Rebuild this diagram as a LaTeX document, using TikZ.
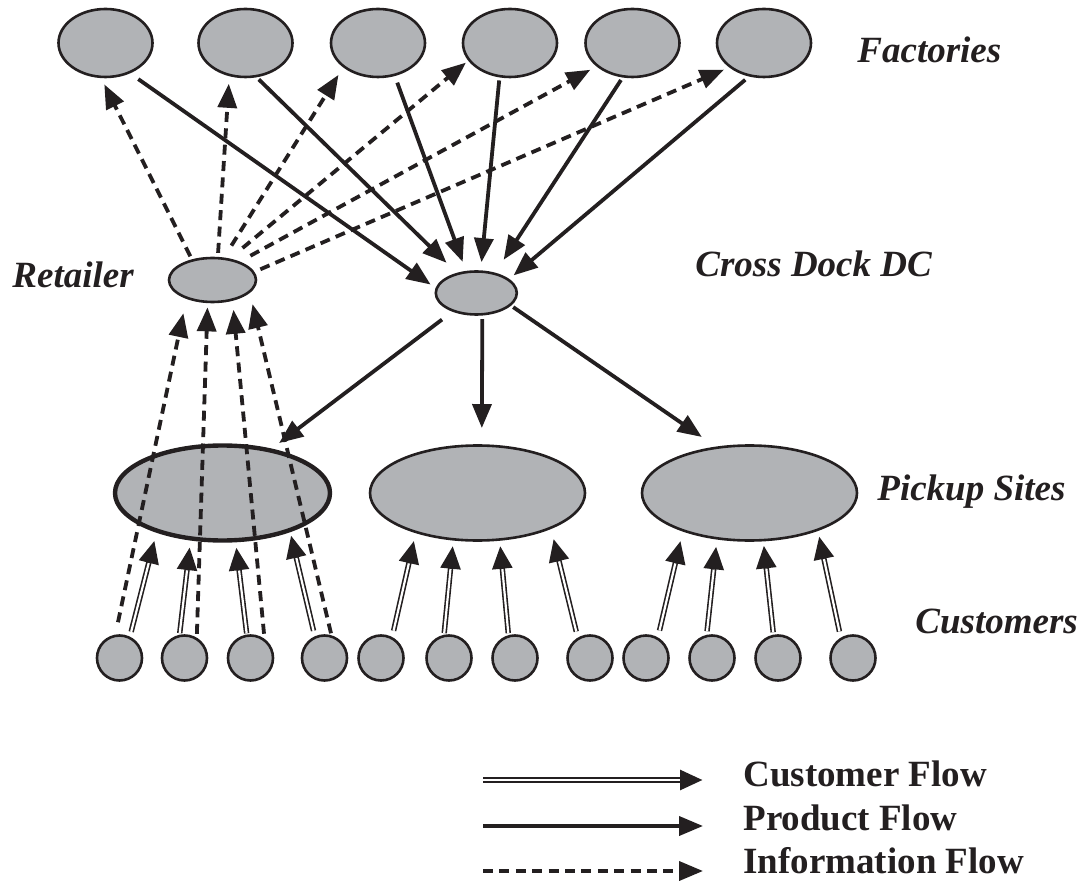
\documentclass[tikz,border=0pt]{standalone}
\usepackage{fontspec}
\setmainfont{Liberation Serif}
\usetikzlibrary{arrows.meta,shapes.geometric}
\definecolor{nodegray}{RGB}{177,179,182}
\definecolor{ink}{RGB}{35,31,32}
% customer flow: double line with filled triangle tip
% #1 start, #2 end, #3 shorten start (pt, number), #4 shorten end (pt, number)
\newcommand{\custflow}[4]{%
  \draw[ink, line width=2.7pt, -{Triangle[length=11.5pt,width=9.5pt]}, shorten <=#3pt, shorten >=#4pt] (#1) -- (#2);
  \pgfmathsetmacro{\cfend}{#4+11.7}%
  \draw[white, line width=1.1pt, shorten <=#3pt, shorten >=\cfend pt] (#1) -- (#2);
}
\begin{document}
\begin{tikzpicture}[x=0.5pt, y=-0.5pt,
  hub/.style={ellipse, draw=ink, fill=nodegray, line width=1.3pt, inner sep=0pt},
  fac/.style={hub, minimum width=47pt, minimum height=34pt},
  pick/.style={hub, minimum width=107.5pt, minimum height=47.5pt},
  cust/.style={circle, draw=ink, fill=nodegray, line width=1.3pt, inner sep=0pt, minimum size=22.5pt},
  prod/.style={draw=ink, line width=1.9pt, -{Triangle[length=12pt,width=9.5pt]}},
  info/.style={prod, dash pattern=on 5pt off 3.2pt},
  lab/.style={font=\fontsize{18.5}{22}\selectfont\bfseries\itshape, text=ink, anchor=base west, inner sep=0pt},
  leg/.style={font=\fontsize{18.5}{22}\selectfont\bfseries, text=ink, anchor=base west, inner sep=0pt},
]
\useasboundingbox (0,0) rectangle (1080,881);

% factories
\node[fac] (f1) at (105.5,43) {};
\node[fac] (f2) at (245.5,43) {};
\node[fac] (f3) at (378,43) {};
\node[fac] (f4) at (510,43) {};
\node[fac] (f5) at (632.5,43) {};
\node[fac] (f6) at (764,43) {};

% retailer and cross dock
\node[hub, minimum width=43.5pt, minimum height=22pt] (r) at (212.5,280) {};
\node[hub, minimum width=40.5pt, minimum height=21.5pt] (cd) at (476.3,293) {};

% pickup sites
\node[pick, line width=2.2pt] (p1) at (222.5,493) {};
\node[pick] (p2) at (477.5,493) {};
\node[pick] (p3) at (749.5,493) {};

% customers
\node[cust] (c1) at (119.5,658) {};
\node[cust] (c2) at (184.5,658) {};
\node[cust] (c3) at (250.5,658) {};
\node[cust] (c4) at (324.5,658) {};
\node[cust] (c5) at (381,658) {};
\node[cust] (c6) at (449,658) {};
\node[cust] (c7) at (515,658) {};
\node[cust] (c8) at (590,658) {};
\node[cust] (c9) at (646,658) {};
\node[cust] (c10) at (712,658) {};
\node[cust] (c11) at (778,658) {};
\node[cust] (c12) at (853,658) {};

% labels
\node[lab] (lf) at (857,63) {Factories};
\node[lab] (lr) at (12,288) {Retailer};
\node[lab] (lcd) at (695,277) {Cross Dock DC};
\node[lab] (lp) at (877,500) {Pickup Sites};
\node[lab] (lc) at (915,633) {Customers};

% product flow: factories -> cross dock
\draw[prod, shorten <=5pt, shorten >=3pt] (f1.309) -- (cd.173);
\draw[prod, shorten <=1.5pt, shorten >=7.2pt] (f2.288) -- (cd.134);
\draw[prod, shorten <=3.5pt, shorten >=4.8pt] (f3.297) -- (cd.115);
\draw[prod, shorten <=1.5pt, shorten >=4.1pt] (f4.253) -- (cd.79);
\draw[prod, shorten <=1.5pt, shorten >=7.7pt] (f5.254) -- (cd.47);
\draw[prod, shorten <=2.5pt, shorten >=2.8pt] (f6.246) -- (cd.23);

% product flow: cross dock -> pickup sites
\draw[prod, shorten <=6.5pt, shorten >=4.6pt] (cd.218) -- (p1.42);
\draw[prod, shorten <=1.8pt, shorten >=8.1pt] (cd.285.5) -- (p2.85);
\draw[prod, shorten <=1.3pt, shorten >=8.5pt] (cd.340.6) -- (p3.126.7);

% information flow: retailer -> factories
\draw[info, shorten <=1.7pt, shorten >=3.5pt] (r.135.6) -- (f1.263);
\draw[info, shorten <=2pt, shorten >=3.8pt] (r.77.7) -- (f2.244);
\draw[info, shorten <=7pt, shorten >=4.4pt] (r.63.4) -- (f3.215.7);
\draw[info, shorten <=8.2pt, shorten >=1.5pt] (r.51) -- (f4.203.4);
\draw[info, shorten <=6pt, shorten >=3.5pt] (r.34.2) -- (f5.213.8);
\draw[info, shorten <=3.2pt, shorten >=2.8pt] (r.11.9) -- (f6.215.6);

% information flow: customers -> retailer
\draw[info, shorten <=6.3pt, shorten >=7.3pt] (c1.100.5) -- (r.216.7);
\draw[info, shorten <=1.9pt, shorten >=2.1pt] (c2.59) -- (r.258);
\draw[info, shorten <=2.5pt, shorten >=4.5pt] (c3.54.8) -- (r.314.2);
\draw[info, shorten <=1pt, shorten >=5.8pt] (c4.73.3) -- (r.341.6);

% customer flow: customers -> pickup sites
\custflow{c1.64}{p1.211}{2.5}{4}
\custflow{c2.102}{p1.236}{0.8}{3.3}
\custflow{c3.99}{p1.285}{0.6}{2.5}
\custflow{c4.114}{p1.330}{2.8}{1.6}
\custflow{c5.62}{p2.213}{3.2}{3.8}
\custflow{c6.102}{p2.243}{0.8}{2.6}
\custflow{c7.106}{p2.295}{1}{2.5}
\custflow{c8.121}{p2.334}{3.1}{5}
\custflow{c9.60}{p3.210}{3.5}{4.7}
\custflow{c10.103}{p3.235}{1.8}{3.4}
\custflow{c11.101}{p3.286}{1.2}{2}
\custflow{c12.121}{p3.331}{3.1}{2.7}

% legend
\coordinate (l1s) at (483,780); \coordinate (l1e) at (703,780);
\coordinate (l2s) at (483,826); \coordinate (l2e) at (703,826);
\coordinate (l3s) at (483,871); \coordinate (l3e) at (703,871);
\custflow{l1s}{l1e}{0}{0}
\draw[prod] (l2s) -- (l2e);
\draw[info] (l3s) -- (l3e);
\node[leg] (t1) at (743,786) {Customer Flow};
\node[leg] (t2) at (743,830) {Product Flow};
\node[leg] (t3) at (743,873) {Information Flow};
\end{tikzpicture}
\end{document}
